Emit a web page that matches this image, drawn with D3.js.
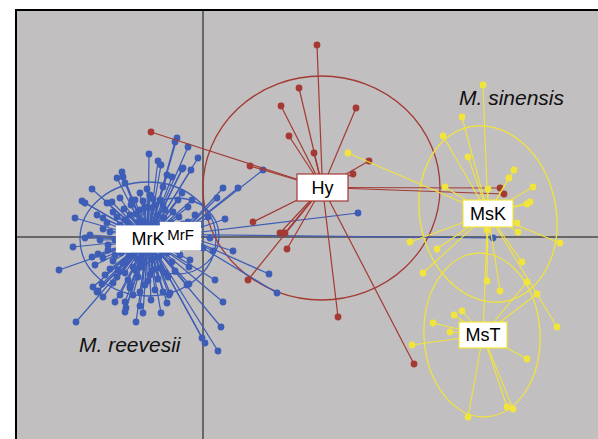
<!DOCTYPE html>
<html>
<head>
<meta charset="utf-8">
<script src="https://cdn.jsdelivr.net/npm/d3@7/dist/d3.min.js"></script>
<style>
    body { margin: 0; background: #fff; }
    svg text { font-family: "Liberation Sans", Arial, sans-serif; }
</style>
</head>
<body>
<div id="svg-container"></div>
<script>

// group labels and where each group's centroid sits (discriminant units)
const groupNames = ["MrK", "MrF", "Hy", "MsK", "MsT"];
const groupCenters = [[-5.5, -0.2], [-2.25, 0.25], [11.95, 4.95], [28.5, 2.35], [28.0, -9.8]];
// inertia ellipses: cx, cy, rx, ry, tilt (deg)
const groupEllipses = [
    [-5.5, -0.2, 6.8, 5.7, 0],
    [-2.6, 0.1, 4.2, 3.8, 0],
    [11.85, 4.9, 11.85, 11.2, 0],
    [28.5, 2.3, 6.8, 8.9, -12],
    [27.9, -9.8, 5.8, 8.2, -3]
];
const speciesLabels = ["M. sinensis", "M. reevesii"];
const speciesSpots = [[25.6, 13.2], [-12.4, -11.5]];

const mrkPts = [
    [-5.4, 8.3], [-4.5, 7.6], [-4.2, 7.2], [-8.1, 6.5], [-8.0, 6.0], [-8.6, 5.9], [-7.8, 5.4],
    [-5.6, 4.8], [-6.3, 4.4], [-11.1, 4.8], [-8.3, 3.9], [-9.1, 3.5], [-12.1, 3.6], [-11.8, 3.4],
    [-9.6, 3.4], [-7.1, 3.7], [-12.8, 1.9], [-10.6, 2.2], [-10.0, 1.9], [-3.6, 6.2], [-3.1, 6.0],
    [-2.1, 6.8], [-1.2, 6.7], [-2.6, 9.9], [-1.5, 9.0], [-0.5, 7.9], [-2.8, 9.5], [-2.0, 6.9],
    [-1.1, 3.7], [-2.5, 3.7], [-2.1, 4.4], [-4.0, 5.0], [-1.5, 3.0],
    [-13.0, -1.0], [-14.4, -3.3], [-11.1, -2.0], [-10.5, -1.7], [-10.8, -2.8], [-10.0, -2.1],
    [-11.0, -5.0], [-10.1, -4.7], [-10.5, -5.4], [-10.0, -6.0], [-12.7, -8.5], [-7.8, -6.5],
    [-7.7, -7.1], [-7.8, -7.5], [-6.3, -6.9], [-6.0, -7.6], [-6.7, -8.5], [-7.0, -5.8],
    [-9.0, -4.6], [-8.3, -5.8], [-4.2, -7.6], [-10.6, -5.5], [-0.1, -10.1], [0.2, -10.6],
    [1.5, -11.4], [1.8, -9.0], [2.0, -6.5], [1.2, -4.3], [-1.4, -4.7], [-3.3, -5.6], [-4.0, -5.5],
    [-3.4, -5.8], [-1.6, -4.8], [-1.4, -3.0],
    [-7.3, 2.2], [-6.3, 2.7], [-4.8, 3.2], [-3.8, 2.7], [-8.3, 1.2], [-9.3, 0.5], [-9.5, -0.8],
    [-8.8, -1.8], [-7.8, -2.5], [-6.8, -3.3], [-5.3, -3.8], [-4.3, -3.1], [-3.1, -2.5], [-2.3, -1.8],
    [-1.3, -2.3], [-8.5, -3.3], [-7.5, -4.3], [-5.8, -4.8], [-4.8, -5.3], [-10.3, -0.3], [-11.3, 0.2],
    [-6.8, 3.7], [-5.3, 4.2], [-4.3, 3.7], [-9.0, 2.5], [-7.8, 1.7], [-6.5, 1.5], [-9.8, -3.8],
    [-6.3, -5.5], [-7.3, -5.1], [-11.8, -0.1], [-1.5, 1.5], [-0.3, 1.2],
    [-5.8, 3.0], [-5.1, 2.9], [-4.5, 2.2], [-3.9, 1.9], [-3.2, 1.4], [-6.7, 2.3], [-7.5, 1.4],
    [-8.0, 0.8], [-8.8, -0.3], [-8.2, -1.6], [-7.4, -1.9], [-6.6, -2.2], [-5.9, -2.6], [-5.1, -2.3],
    [-4.4, -2.0], [-3.6, -1.6], [-2.8, -1.2], [-6.2, -3.0], [-5.0, -3.3], [-3.8, -3.6], [-7.0, -3.0],
    [-8.0, -2.6], [-9.0, -2.4], [-6.5, -4.0], [-5.5, -4.4], [-4.5, -4.2], [-3.5, -4.0], [-2.8, -3.4],
    [-7.8, -3.6], [-8.6, -4.0], [-9.5, -1.3], [-10.0, 0.8], [-9.6, 1.4], [-8.6, 2.0], [-7.9, 2.8],
    [-7.2, 3.2], [-6.0, 3.6], [-5.0, 3.8], [-4.0, 3.2], [-3.0, 2.5], [-2.4, 2.0], [-2.0, 1.3],
    [-6.8, -1.5], [-5.3, -1.6], [-4.0, -1.4], [-6.0, 1.6], [-4.8, 1.4], [-7.3, -4.9], [-5.2, -6.3],
    [-3.6, -6.6], [-8.8, -6.5], [-9.3, -3.2]
];
const mrfPts = [
    [0.5, 2.0], [2.2, 1.8], [1.4, 3.9], [2.0, 4.9], [3.5, 4.9], [6.0, 6.7], [15.5, 2.4], [29.0, -0.1],
    [3.0, -1.4], [6.6, -3.7], [7.4, -5.6], [0.0, -1.1], [1.0, -1.4], [-0.8, 2.2], [0.7, -0.1]
];
const hyPts = [
    [11.4, 19.2], [9.6, 14.9], [7.8, 13.1], [8.6, 10.1], [15.3, 12.9], [11.1, 8.4], [16.6, 7.6],
    [15.0, 6.3], [-5.2, 10.5], [4.7, 7.1], [29.7, 4.9], [30.1, 4.3], [5.0, 1.5], [7.7, 0.4],
    [8.2, 0.4], [8.4, -1.2], [4.5, -4.3], [13.5, -8.0], [21.1, -12.7]
];
const mskPts = [
    [28.0, 15.2], [25.9, 12.0], [24.0, 10.1], [26.5, 8.0], [14.5, 8.4], [31.1, 6.7], [30.6, 5.9],
    [33.0, 5.0], [32.7, 3.5], [32.4, 3.3], [24.2, 5.0], [28.5, 4.8], [35.7, -0.6], [20.7, -0.5],
    [23.4, -1.2], [22.0, -3.6], [31.5, 0.5], [31.4, 1.4], [31.9, -2.5], [29.7, -5.4], [28.4, -4.4],
    [35.4, -9.0]
];
const mstPts = [
    [23.0, -8.6], [25.1, -7.8], [25.9, -7.4], [24.7, -9.5], [20.9, -10.8], [32.4, -12.2],
    [30.4, -17.0], [31.0, -17.2], [26.5, -18.0], [33.4, -5.7], [32.4, -4.5], [28.4, 0.7]
];
const groupPts = [mrkPts, mrfPts, hyPts, mskPts, mstPts];
const groupColors = ["#3d5db6", "#3d5db6", "#a43a33", "#f1e43c", "#f1e43c"];

const W = 598, H = 439;

const svg = d3.select("#svg-container")
    .append("svg")
    .attr("width", W)
    .attr("height", H);

const x = d3.scaleLinear().domain([-18.7, 39.5]).range([16, 598]);
const y = d3.scaleLinear().domain([-20.2, 22.7]).range([439, 10]);

svg.append("rect")
    .attr("x", x(-18.7)).attr("y", y(22.7))
    .attr("width", 700).attr("height", 600)
    .attr("fill", "#c1bfc0");

// the zero lines
svg.append("line")
    .attr("x1", x(0)).attr("x2", x(0))
    .attr("y1", y(22.7)).attr("y2", H)
    .attr("stroke", "#4a4a4a").attr("stroke-width", 1.5);
svg.append("line")
    .attr("x1", x(-18.7)).attr("x2", W)
    .attr("y1", y(0)).attr("y2", y(0))
    .attr("stroke", "#4a4a4a").attr("stroke-width", 1.5);

const kx = x(1) - x(0);
const ky = y(0) - y(1);
const lineW = [1.25, 1.25, 1.2, 1.1, 1.1];

svg.append("g")
    .selectAll("ellipse")
    .data(groupEllipses)
    .enter()
    .append("ellipse")
    .attr("transform", d => `translate(${x(d[0])},${y(d[1])}) rotate(${d[4]})`)
    .attr("rx", d => d[2] * kx)
    .attr("ry", d => d[3] * ky)
    .attr("fill", "none")
    .attr("stroke", (d, i) => groupColors[i])
    .attr("stroke-width", 1.3);

groupPts.forEach((pts, i) => {
    let c = groupCenters[i];
    let g = svg.append("g");
    g.selectAll("line")
        .data(pts)
        .enter()
        .append("line")
        .attr("x1", x(c[0])).attr("y1", y(c[1]))
        .attr("x2", d => x(d[0])).attr("y2", d => y(d[1]))
        .attr("stroke", groupColors[i])
        .attr("stroke-width", lineW[i]);
    g.selectAll("circle")
        .data(pts)
        .enter()
        .append("circle")
        .attr("cx", d => x(d[0])).attr("cy", d => y(d[1]))
        .attr("r", 3.4)
        .attr("fill", groupColors[i]);
});

// label boxes, MrF first so MrK sits over it
const boxW = [63, 40, 51, 50, 48];
const boxH = [26, 27, 27, 27, 26];
const boxDy = [0, 1.5, 0, 0, 0];
const fontSz = [18, 15, 18, 18, 18];
const order = [1, 0, 2, 3, 4];
const boxStroke = ["#ffffff", "#ffffff", "#a43a33", "#f1e43c", "#f1e43c"];

order.forEach(i => {
    let c = groupCenters[i];
    let cx = x(c[0]), cy = y(c[1]);
    svg.append("rect")
        .attr("x", cx - boxW[i] / 2)
        .attr("y", cy - boxH[i] / 2 + boxDy[i])
        .attr("width", boxW[i])
        .attr("height", boxH[i])
        .attr("fill", "#fff")
        .attr("stroke", boxStroke[i])
        .attr("stroke-width", 1.2);
});
order.forEach(i => {
    let c = groupCenters[i];
    svg.append("text")
        .attr("x", x(c[0]))
        .attr("y", y(c[1]) + fontSz[i] * 0.36)
        .attr("text-anchor", "middle")
        .attr("font-size", fontSz[i])
        .attr("fill", "#000")
        .text(groupNames[i]);
});

svg.selectAll(".species")
    .data(speciesLabels)
    .enter()
    .append("text")
    .attr("class", "species")
    .attr("x", (d, i) => x(speciesSpots[i][0]))
    .attr("y", (d, i) => y(speciesSpots[i][1]))
    .attr("font-size", 21)
    .attr("font-style", "italic")
    .attr("fill", "#111")
    .text(d => d);

// frame, only top and left edges are inside the picture
svg.append("path")
    .attr("d", `M${x(-18.7)},${H} V${y(22.7)} H${W}`)
    .attr("fill", "none")
    .attr("stroke", "#000")
    .attr("stroke-width", 2);

</script>
</body>
</html>
